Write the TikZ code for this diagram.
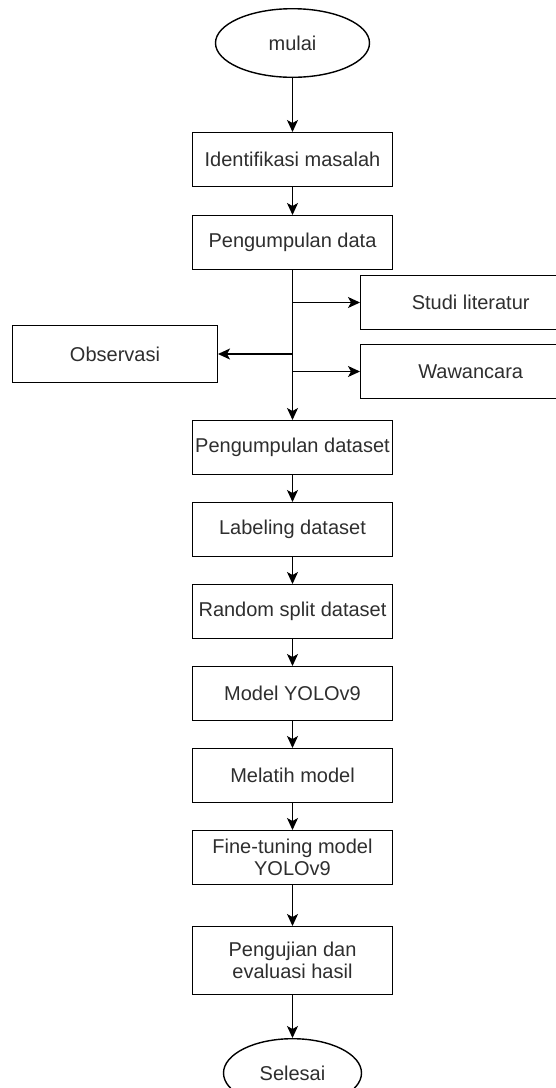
\documentclass[tikz,border=0pt]{standalone}
\usepackage{fontspec}
\setmainfont{Liberation Sans}
\usetikzlibrary{arrows.meta, positioning, shapes.geometric}
\definecolor{txtgray}{HTML}{2E2E2E}

\begin{document}
\begin{tikzpicture}[
		x=1pt, y=1pt,
		node distance=27pt,
		font=\fontsize{20}{21.5}\selectfont,
		box/.style={draw, line width=1.4pt, text=txtgray, minimum width=199.6pt, minimum height=53.6pt, inner xsep=1pt, align=center},
		sidebox/.style={box, minimum width=220pt},
		terminal/.style={draw, ellipse, line width=1.4pt, text=txtgray, minimum width=154pt, minimum height=68.6pt},
		arrow/.style={-{Stealth[length=12pt, width=11pt, inset=3pt]}, line width=1.4pt}
	]
	
		\useasboundingbox (0,0) rectangle (556,-1088);
		
		% Nodes
		\node[terminal] (mulai) at (292.5,-43) {mulai};
		\node[box, below=54pt of mulai] (identifikasi) {Identifikasi masalah};
		\node[box, below=28pt of identifikasi] (pengdata) {Pengumpulan data};
		\node[sidebox, anchor=north west, below right=5pt and 67.5pt of pengdata.south] (studi) {Studi literatur};
		\node[box, minimum width=204.6pt, minimum height=56.6pt, anchor=north east, below left=55pt and 74.5pt of pengdata.south] (observasi) {Observasi};
		\node[sidebox, anchor=north west, below right=74pt and 67.5pt of pengdata.south] (wawancara) {Wawancara};
		\node[box, below=150pt of pengdata] (pengdataset) {Pengumpulan dataset};
		\node[box, below=of pengdataset] (labeling) {Labeling dataset};
		\node[box, below=of labeling] (split) {Random split dataset};
		\node[box, below=of split] (yolo) {Model YOLOv9};
		\node[box, below=of yolo] (melatih) {Melatih model};
		\node[box, below=of melatih] (finetune) {Fine-tuning model\\YOLOv9};
		\node[box, minimum height=67.6pt, below=41pt of finetune] (pengujian) {Pengujian dan\\evaluasi hasil};
		\node[terminal, minimum width=138pt, below=43pt of pengujian] (selesai) {Selesai};
		
		% Branch points on the trunk
		\coordinate (j1) at (pengdata.south |- studi.west);
		\coordinate (j2) at (pengdata.south |- observasi.east);
		\coordinate (j3) at (pengdata.south |- wawancara.west);
		
		% Arrows
		\draw[arrow] (mulai) -- (identifikasi);
		\draw[arrow] (identifikasi) -- (pengdata);
		\draw[arrow] (pengdata) -- (pengdataset);
		\draw[arrow] (j1) -- (studi);
		\draw[arrow] (j2) -- (observasi);
		\draw[arrow] (j3) -- (wawancara);
		\draw[arrow] (pengdataset) -- (labeling);
		\draw[arrow] (labeling) -- (split);
		\draw[arrow] (split) -- (yolo);
		\draw[arrow] (yolo) -- (melatih);
		\draw[arrow] (melatih) -- (finetune);
		\draw[arrow] (finetune) -- (pengujian);
		\draw[arrow] (pengujian) -- (selesai);
		
	\end{tikzpicture}
\end{document}
